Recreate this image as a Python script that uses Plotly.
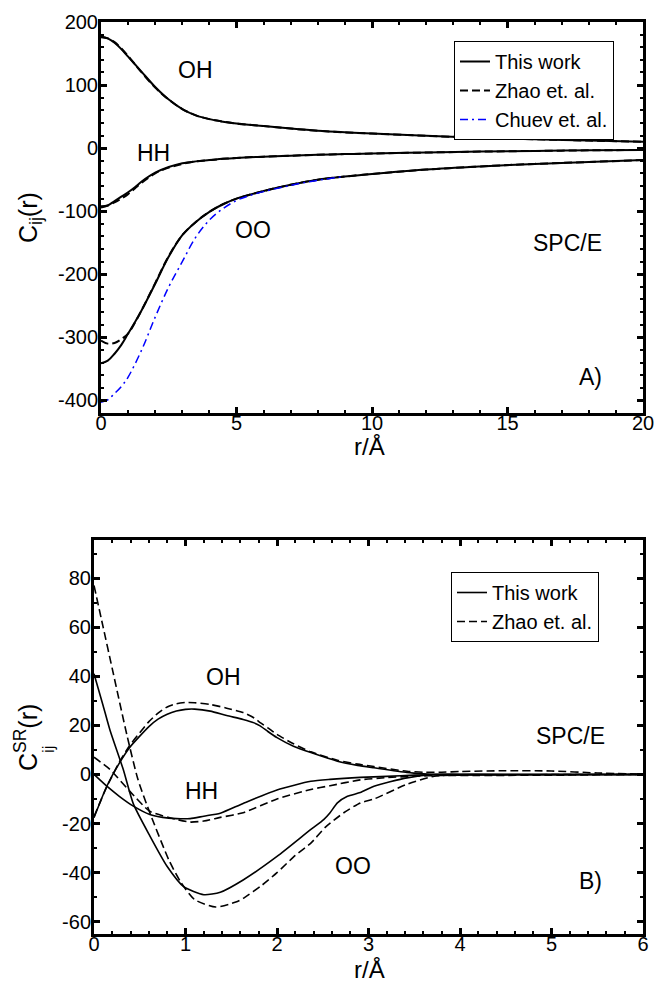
import plotly.graph_objects as go

# ---------------- Panel A data (r in Å) ----------------
rA = [0, 0.25, 0.5, 0.75, 1, 1.25, 1.5, 2, 2.5, 3, 3.5, 4, 4.5, 5, 6, 7, 8, 9, 10, 12, 14, 16, 18, 20]
A_OH_this = [177, 174, 167, 157, 145, 133, 121, 97, 77, 62, 52, 46, 42, 39, 35, 31, 27.5, 25, 23, 19.5, 16.5, 14, 12, 10]
A_OH_zhao = [176, 174, 168, 158, 146, 133, 120, 96, 77, 62, 52, 46, 42, 39, 35, 31, 27.5, 25, 23, 19.5, 16.5, 14, 12, 10]
A_HH_this = [-94, -91, -84, -77, -70, -62, -53, -39, -30, -24, -21, -19, -17, -15.5, -13.5, -12, -10.5, -9.5, -8.5, -7, -5.5, -4.5, -3.5, -3]
A_HH_zhao = [-92, -91, -86, -80, -73, -64, -55, -40, -31, -25, -21, -19, -17, -15.5, -13.5, -12, -10.5, -9.5, -8.5, -7, -5.5, -4.5, -3.5, -3]
A_OO_this = [-341, -337, -326, -312, -294, -276, -257, -215, -172, -138, -117, -101, -89, -80, -68, -58, -50, -45, -41, -34, -29, -25, -22, -19]
A_OO_zhao = [-305, -310, -309, -303, -294, -277, -257, -214, -171, -138, -117, -101, -89, -80, -68, -58, -50, -45, -41, -34, -29, -25, -22, -19]
rA_chuev = [0, 0.25, 0.5, 0.75, 1, 1.5, 2, 2.5, 3, 3.5, 4, 4.5, 5, 5.5, 6, 7, 8, 9]
A_OO_chuev = [-403, -399, -389, -378, -363, -320, -268, -220, -180, -141, -114, -96, -83, -75, -69, -59, -51, -45]

# ---------------- Panel B data (r in Å) ----------------
rB_OH = [0, 0.14, 0.28, 0.39, 0.5, 0.6, 0.7, 0.8, 0.9, 1.0, 1.1, 1.27, 1.45, 1.63, 1.75, 1.82, 1.9, 2.0,
         2.18, 2.37, 2.66, 2.88, 3.06, 3.42, 3.6, 3.8, 4.0, 4.5, 5.0, 5.5, 6.0]
B_OH_this = [-17.6, -4.8, 4.8, 11, 15.6, 19.5, 22.5, 24.5, 25.8, 26.5, 26.6, 25.8, 24, 22.4, 21, 19.7, 17.5, 15,
             11.5, 8.9, 5.4, 3.7, 2.7, 0.8, 0.3, 0, 0, 0, 0, 0, 0]
B_OH_zhao = [-17.2, -5, 5.2, 11.8, 17, 21.5, 25, 27.5, 28.8, 29.3, 29.2, 28.5, 27, 25.2, 23, 21, 19, 16.3,
             12.5, 9.2, 5.8, 4.2, 3.2, 1.3, 0.9, 0.9, 1.2, 1.5, 1.4, 0.6, 0.1]
rB_HH_this = [0, 0.14, 0.28, 0.43, 0.61, 0.75, 0.9, 1.05, 1.2, 1.38, 1.63, 2.0, 2.37, 2.58, 2.91, 3.2, 3.5, 3.8, 4.5, 6.0]
B_HH_this = [0, -4.8, -9, -12.9, -16.3, -17.5, -18, -18, -17, -15.8, -11.8, -6.3, -2.8, -2, -1.2, -0.8, -0.3, 0, 0, 0]
rB_HH_zhao = [0, 0.175, 0.39, 0.61, 0.9, 1.05, 1.2, 1.38, 1.63, 2.0, 2.37, 2.58, 2.91, 3.2, 3.5, 3.8, 4.2, 5.0, 6.0]
B_HH_zhao = [7, 2, -6.8, -15, -18.3, -19.4, -19, -17.5, -15.6, -10, -6.1, -4.6, -2.2, -1.3, -0.7, -0.4, -0.4, -0.3, 0]
rB_OO_this = [0, 0.1, 0.175, 0.32, 0.43, 0.61, 0.8, 0.98, 1.2, 1.38, 1.63, 2.0, 2.37, 2.51, 2.58, 2.66, 2.77,
              2.91, 3.06, 3.42, 3.72, 4.0, 6.0]
B_OO_this = [41, 28, 18, 2, -12, -25, -37.5, -45.7, -49, -48, -43, -33.4, -22.4, -18.4, -15.6, -11.6, -8.9,
             -7.4, -4.8, -1.4, 0, 0, 0]
rB_OO_zhao = [0, 0.1, 0.2, 0.36, 0.48, 0.61, 0.82, 0.95, 1.1, 1.33, 1.55, 1.63, 1.84, 2.0, 2.2, 2.37, 2.53,
              2.73, 2.91, 3.06, 3.42, 3.72, 4.0, 6.0]
B_OO_zhao = [77, 60, 43, 16, -2, -15.6, -35, -44, -51, -54, -52, -50.5, -45, -40, -33, -28, -21.5,
             -15.6, -11.6, -10, -4, -0.7, -0.3, 0]

# ---------------- Tick labels ----------------
A_xticks = [0, 5, 10, 15, 20]
A_xlabels = ["0", "5", "10", "15", "20"]
A_yticks = [-400, -300, -200, -100, 0, 100, 200]
A_ylabels = ["-400", "-300", "-200", "-100", "0", "100", "200"]
B_xticks = [0, 1, 2, 3, 4, 5, 6]
B_xlabels = ["0", "1", "2", "3", "4", "5", "6"]
B_yticks = [-60, -40, -20, 0, 20, 40, 60, 80]
B_ylabels = ["-60", "-40", "-20", "0", "20", "40", "60", "80"]

FONT = "Liberation Sans, Arial, sans-serif"
BLACK = "#000000"
BLUE = "#0000ff"
DASH = "8px,4px"
DASHDOT = "8px,4px,2px,4px"

fig = go.Figure()

def add(x, y, name, dash, color, width, show, xa, ya, legend, group, smooth=0.6):
    fig.add_trace(go.Scatter(
        x=x, y=y, mode="lines", name=name, legendgroup=group + legend,
        showlegend=show, legend=legend, xaxis=xa, yaxis=ya,
        line=dict(color=color, width=width, dash=dash, shape="spline", smoothing=smooth),
        hoverinfo="skip"))

# Panel A
add(rA, A_OH_this, "This work", "solid", BLACK, 2, True, "x", "y", "legend", "this", 1.0)
add(rA, A_HH_this, "This work", "solid", BLACK, 2, False, "x", "y", "legend", "this", 1.0)
add(rA, A_OO_this, "This work", "solid", BLACK, 2, False, "x", "y", "legend", "this", 1.0)
add(rA, A_OH_zhao, "Zhao et. al.", DASH, BLACK, 2, True, "x", "y", "legend", "zhao", 1.0)
add(rA, A_HH_zhao, "Zhao et. al.", DASH, BLACK, 2, False, "x", "y", "legend", "zhao", 1.0)
add(rA, A_OO_zhao, "Zhao et. al.", DASH, BLACK, 2, False, "x", "y", "legend", "zhao", 1.0)
add(rA_chuev, A_OO_chuev, "Chuev et. al.", DASHDOT, BLUE, 1.5, True, "x", "y", "legend", "chuev", 1.0)

# Panel B
add(rB_OH, B_OH_this, "This work", "solid", BLACK, 1.6, True, "x2", "y2", "legend2", "this")
add(rB_HH_this, B_HH_this, "This work", "solid", BLACK, 1.6, False, "x2", "y2", "legend2", "this")
add(rB_OO_this, B_OO_this, "This work", "solid", BLACK, 1.6, False, "x2", "y2", "legend2", "this")
add(rB_OH, B_OH_zhao, "Zhao et. al.", DASH, BLACK, 1.6, True, "x2", "y2", "legend2", "zhao")
add(rB_HH_zhao, B_HH_zhao, "Zhao et. al.", DASH, BLACK, 1.6, False, "x2", "y2", "legend2", "zhao")
add(rB_OO_zhao, B_OO_zhao, "Zhao et. al.", DASH, BLACK, 1.6, False, "x2", "y2", "legend2", "zhao")

# empty helper traces so the tick-only overlay axes get drawn
fig.add_trace(go.Scatter(x=[], y=[], xaxis="x3", yaxis="y3", showlegend=False, hoverinfo="skip"))
fig.add_trace(go.Scatter(x=[], y=[], xaxis="x4", yaxis="y4", showlegend=False, hoverinfo="skip"))

W, H = 656, 985

def axis(rng, tv, tt, minor_dtick, anchor, standoff=None, domain=None, overlaying=None, side=None,
         labels=True):
    d = dict(range=rng, anchor=anchor, tickvals=tv, ticktext=tt,
             showline=True, linewidth=3, linecolor=BLACK, mirror="ticks",
             ticks="inside", ticklen=6, tickwidth=3, tickcolor=BLACK,
             minor=dict(ticks="inside", ticklen=3, tickwidth=2, tickcolor=BLACK,
                        dtick=minor_dtick, showgrid=False),
             showgrid=False, zeroline=False, showticklabels=labels,
             tickfont=dict(family=FONT, size=20, color=BLACK))
    if domain is not None:
        d["domain"] = domain
    if standoff is not None:
        d["ticklabelstandoff"] = standoff
    if overlaying is not None:
        d["overlaying"] = overlaying
    if side is not None:
        d["side"] = side
    return d

dAx = [101 / W, 643 / W]
dAy = [1 - 413 / H, 1 - 22 / H]
dBx = [94 / W, 643 / W]
dBy = [1 - 934 / H, 1 - 540 / H]

fig.update_layout(
    width=W, height=H, margin=dict(l=0, r=0, t=0, b=0, autoexpand=False),
    paper_bgcolor="white", plot_bgcolor="white",
    font=dict(family=FONT, size=20, color=BLACK),
    xaxis=axis([0, 20], A_xticks, A_xlabels, 1, "y", -10, dAx),
    yaxis=axis([-420, 200], A_yticks, A_ylabels, 20, "x", -4, dAy),
    xaxis2=axis([0, 6], B_xticks, B_xlabels, 0.2, "y2", -10, dBx),
    yaxis2=axis([-65, 95.5], B_yticks, B_ylabels, 10, "x2", -4, dBy),
    # tick-only overlay axes: their ticks and mirrored ticks frame all four sides
    xaxis3=axis([0, 20], A_xticks, A_xlabels, 1, "y", None, dAx, "x", "top", False),
    yaxis3=axis([-420, 200], A_yticks, A_ylabels, 20, "x", None, dAy, "y", "right", False),
    xaxis4=axis([0, 6], B_xticks, B_xlabels, 0.2, "y2", None, dBx, "x2", "top", False),
    yaxis4=axis([-65, 95.5], B_yticks, B_ylabels, 10, "x2", None, dBy, "y2", "right", False),
    legend=dict(x=454 / W, y=1 - 41 / H, xanchor="left", yanchor="top",
                bgcolor="white", bordercolor=BLACK, borderwidth=1,
                font=dict(family=FONT, size=20, color=BLACK), tracegroupgap=0),
    legend2=dict(x=451 / W, y=1 - 572 / H, xanchor="left", yanchor="top",
                 bgcolor="white", bordercolor=BLACK, borderwidth=1,
                 font=dict(family=FONT, size=20, color=BLACK), tracegroupgap=0),
)

def label(text, x, y, xref, yref, size=23, angle=0):
    fig.add_annotation(text=text, x=x, y=y, xref=xref, yref=yref, showarrow=False,
                       textangle=angle, font=dict(family=FONT, size=size, color=BLACK),
                       xanchor="center", yanchor="middle")

# Panel A labels
label("OH", 3.47, 124, "x", "y")
label("HH", 1.92, -8, "x", "y")
label("OO", 5.6, -130, "x", "y")
label("SPC/E", 17.2, -151, "x", "y")
label("A)", 18.05, -363, "x", "y")
# Panel B labels
label("OH", 1.41, 39.5, "x2", "y2")
label("HH", 1.18, -6.9, "x2", "y2")
label("OO", 2.83, -37.5, "x2", "y2")
label("SPC/E", 5.21, 15.5, "x2", "y2")
label("B)", 5.43, -43.6, "x2", "y2")

# Axis titles
label("r/Å", 370 / W, 1 - 446 / H, "paper", "paper", size=24)
label("r/Å", 370 / W, 1 - 969 / H, "paper", "paper", size=24)
label("C<sub>ij</sub>(r)", 30 / W, 1 - 218 / H, "paper", "paper", size=25, angle=-90)
label("C<sup>SR</sup>(r)", 26 / W, 1 - 738 / H, "paper", "paper", size=25, angle=-90)
label("ij", 48 / W, 1 - 749 / H, "paper", "paper", size=17, angle=-90)

fig.write_html("out.html")
